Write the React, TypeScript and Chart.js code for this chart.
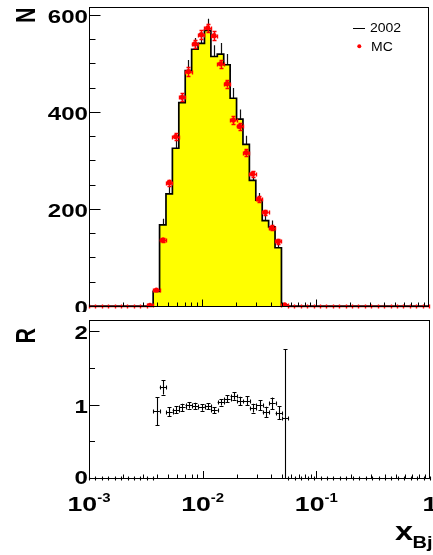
import React, { useEffect, useRef } from "react";
import { Chart, registerables } from "chart.js";

Chart.register(...registerables);

// ---------- binning (log-uniform bins) ----------
const N_BINS = 53;
const X_MIN = 1e-3;
const X_MAX = 1;
const FIRST_BIN = 9; // index of the first bin listed in the arrays below

// ---------- values (bins 9..30) ----------
const DATA_2002 = [0, 30, 167, 231, 325, 419, 485, 529, 541, 568, 514, 519, 497, 428, 385, 333, 259, 218, 176, 163, 120, 2];
const DATA_2002_ERR = [0, 5.5, 13, 15, 18, 20, 22, 23, 23, 24, 23, 23, 22, 21, 20, 18, 16, 15, 13, 13, 11, 1.4];
const MC = [1.5, 33, 136, 254, 349, 430, 483, 540, 559, 573, 557, 499, 458, 383, 370, 316, 272, 220, 193, 161, 133, 2.4];
const MC_ERR = [0.5, 2.5, 5, 6.5, 7.5, 8, 8.5, 9, 9, 9, 9, 8.5, 8, 7.5, 7.5, 7, 6.5, 6, 5.5, 5, 4.5, 0.6];
const RATIO = [0, 0.91, 1.235, 0.9, 0.93, 0.96, 0.99, 0.98, 0.96, 0.98, 0.92, 1.03, 1.08, 1.115, 1.05, 1.05, 0.95, 0.99, 0.9, 1.015, 0.89, 0.82];
const RATIO_ERR = [0, 0.19, 0.1, 0.06, 0.05, 0.05, 0.045, 0.045, 0.045, 0.04, 0.04, 0.045, 0.05, 0.05, 0.055, 0.06, 0.06, 0.07, 0.07, 0.08, 0.09, 0.93];

// ---------- axes / ticks / labels ----------
const TOP_Y_MAX = 616;
const TOP_Y_MAJOR = [0, 200, 400, 600];
const TOP_Y_MINOR_STEP = 50;
const RATIO_Y_MAX = 2.15;
const RATIO_Y_MAJOR = [0, 1, 2];
const RATIO_Y_MINOR_STEP = 0.5;
const X_DECADES = [1e-3, 1e-2, 1e-1, 1];
const X_DECADE_LABELS = [["10", "-3"], ["10", "-2"], ["10", "-1"], ["1", ""]];
const X_MINOR_MULT = [2, 3, 4, 5, 6, 7, 8, 9];
const LEGEND_LABELS = ["2002", "MC"];
const Y_TITLE_TOP = "N";
const Y_TITLE_RATIO = "R";
const X_TITLE = "x";
const X_TITLE_SUB = "Bj";

const FONT = "'Liberation Sans', Arial, Helvetica, sans-serif";
const SX = 1.3; // horizontal stretch of the original rendering

const edge = (i: number) => X_MIN * Math.pow(X_MAX / X_MIN, i / N_BINS);
const at = (arr: number[], k: number) => {
  const j = k - FIRST_BIN;
  return j >= 0 && j < arr.length ? arr[j] : 0;
};

function txt(ctx: CanvasRenderingContext2D, s: string, x: number, y: number, font: string, align: CanvasTextAlign, sx: number, color = "#000") {
  ctx.save();
  ctx.font = font;
  ctx.fillStyle = color;
  ctx.textAlign = align;
  ctx.textBaseline = "alphabetic";
  ctx.translate(x, y);
  ctx.scale(sx, 1);
  ctx.fillText(s, 0, 0);
  ctx.restore();
}

function vtxt(ctx: CanvasRenderingContext2D, s: string, x: number, y: number, font: string, sx: number) {
  ctx.save();
  ctx.font = font;
  ctx.fillStyle = "#000";
  ctx.textAlign = "right";
  ctx.textBaseline = "alphabetic";
  ctx.translate(x, y);
  ctx.rotate(-Math.PI / 2);
  ctx.scale(1, sx);
  ctx.fillText(s, 0, 0);
  ctx.restore();
}

function textW(ctx: CanvasRenderingContext2D, s: string, font: string, sx: number) {
  ctx.save();
  ctx.font = font;
  const w = ctx.measureText(s).width * sx;
  ctx.restore();
  return w;
}

function drawFrameAndTicks(chart: any, yMajor: number[], yMinorStep: number, yMax: number, yMajLen: number, yMinLen: number, xMajLen: number, xMinLen: number) {
  const { ctx, chartArea: a, scales } = chart;
  const x = scales.x;
  const y = scales.y;
  const L = Math.round(a.left) + 0.5;
  const R = Math.round(a.right) - 0.5;
  const T = Math.round(a.top) + 0.5;
  const B = Math.round(a.bottom) + 0.5;
  ctx.save();
  ctx.strokeStyle = "#000";
  ctx.lineWidth = 1;
  ctx.strokeRect(L, T, R - L, B - T);
  ctx.beginPath();
  yMajor.forEach((v) => {
    const py = Math.round(y.getPixelForValue(v)) + 0.5;
    ctx.moveTo(L, py);
    ctx.lineTo(L + yMajLen, py);
  });
  for (let v = yMinorStep; v < yMax; v += yMinorStep) {
    if (yMajor.some((m) => Math.abs(m - v) < 1e-9)) continue;
    const py = Math.round(y.getPixelForValue(v)) + 0.5;
    ctx.moveTo(L, py);
    ctx.lineTo(L + yMinLen, py);
  }
  X_DECADES.forEach((d, i) => {
    const px = Math.min(R, Math.round(x.getPixelForValue(d)) + 0.5);
    ctx.moveTo(px, B);
    ctx.lineTo(px, B - xMajLen);
    if (i < X_DECADES.length - 1) {
      X_MINOR_MULT.forEach((m) => {
        const qx = Math.round(x.getPixelForValue(m * d)) + 0.5;
        ctx.moveTo(qx, B);
        ctx.lineTo(qx, B - xMinLen);
      });
    }
  });
  ctx.stroke();
  ctx.restore();
}

function drawErrorPoints(chart: any, vals: number[], errs: number[], color: string, cap: number, clipArea: boolean, lw: number) {
  const { ctx, chartArea: a, scales } = chart;
  const x = scales.x;
  const y = scales.y;
  ctx.save();
  ctx.strokeStyle = color;
  ctx.lineWidth = lw;
  ctx.beginPath();
  const clampY = (v: number) => (clipArea ? Math.max(a.top, Math.min(a.bottom, v)) : v);
  for (let k = 0; k < N_BINS; k++) {
    const v = at(vals, k);
    const e = at(errs, k);
    const pl = x.getPixelForValue(edge(k));
    const pr = x.getPixelForValue(edge(k + 1));
    const pc = Math.round(x.getPixelForValue(edge(k + 0.5))) + 0.5;
    const py = Math.round(y.getPixelForValue(v)) + 0.5;
    ctx.moveTo(pl, py);
    ctx.lineTo(pr, py);
    ctx.moveTo(Math.round(pl) + 0.5, py - cap);
    ctx.lineTo(Math.round(pl) + 0.5, py + cap);
    ctx.moveTo(Math.round(pr) + 0.5, py - cap);
    ctx.lineTo(Math.round(pr) + 0.5, py + cap);
    if (v > 0 && e > 0) {
      const y1 = clampY(y.getPixelForValue(v - e));
      const y2 = clampY(y.getPixelForValue(v + e));
      ctx.moveTo(pc, y1);
      ctx.lineTo(pc, y2);
      if (y.getPixelForValue(v - e) <= a.bottom || !clipArea) {
        ctx.moveTo(pc - cap, Math.round(y1) + 0.5);
        ctx.lineTo(pc + cap, Math.round(y1) + 0.5);
      }
      ctx.moveTo(pc - cap, Math.round(y2) + 0.5);
      ctx.lineTo(pc + cap, Math.round(y2) + 0.5);
    }
  }
  ctx.stroke();
  ctx.restore();
}

const topPlugin = {
  id: "topDecor",
  beforeDatasetsDraw(chart: any) {
    const { ctx, chartArea: a, scales } = chart;
    const x = scales.x;
    const y = scales.y;
    ctx.save();
    ctx.beginPath();
    ctx.rect(a.left, a.top, a.right - a.left, a.bottom - a.top);
    ctx.clip();
    ctx.strokeStyle = "#111";
    ctx.lineWidth = 1.2;
    ctx.beginPath();
    for (let k = 0; k < N_BINS; k++) {
      const v = at(DATA_2002, k);
      const e = at(DATA_2002_ERR, k);
      if (v <= 0) continue;
      const pc = Math.round(x.getPixelForValue(edge(k + 0.5))) + 0.5;
      ctx.moveTo(pc, y.getPixelForValue(v - e));
      ctx.lineTo(pc, y.getPixelForValue(v + e));
    }
    ctx.stroke();
    ctx.restore();
  },
  afterDatasetsDraw(chart: any) {
    const { ctx } = chart;
    drawErrorPoints(chart, MC, MC_ERR, "#ff0000", 2, false, 1.4);
    drawFrameAndTicks(chart, TOP_Y_MAJOR, TOP_Y_MINOR_STEP, TOP_Y_MAX, 11, 6, 7, 4);
    const y = chart.scales.y;
    const f = `bold 18.5px ${FONT}`;
    TOP_Y_MAJOR.forEach((v) => {
      txt(ctx, String(v), 88, Math.round(y.getPixelForValue(v)) + 7.7, f, "right", SX);
    });
    vtxt(ctx, Y_TITLE_TOP, 35, 7.5, `bold 21.5px ${FONT}`, SX);
    // legend
    ctx.save();
    ctx.strokeStyle = "#000";
    ctx.lineWidth = 1;
    ctx.beginPath();
    ctx.moveTo(353, 28.5);
    ctx.lineTo(365, 28.5);
    ctx.stroke();
    ctx.fillStyle = "#ff0000";
    ctx.beginPath();
    ctx.arc(359.3, 46.3, 2, 0, Math.PI * 2);
    ctx.fill();
    ctx.restore();
    const lf = `12.5px ${FONT}`;
    txt(ctx, LEGEND_LABELS[0], 370, 31.8, lf, "left", 1.12);
    txt(ctx, LEGEND_LABELS[1], 371, 51, lf, "left", 1.12);
  },
};

const ratioPlugin = {
  id: "ratioDecor",
  afterDatasetsDraw(chart: any) {
    const { ctx } = chart;
    drawErrorPoints(chart, RATIO, RATIO_ERR, "#000", 2, true, 1.1);
    drawFrameAndTicks(chart, RATIO_Y_MAJOR, RATIO_Y_MINOR_STEP, RATIO_Y_MAX, 10, 5.5, 7.5, 4);
    const y = chart.scales.y;
    const x = chart.scales.x;
    const f = `bold 18.5px ${FONT}`;
    RATIO_Y_MAJOR.forEach((v) => {
      const off = v === 0 ? 5.5 : 7.5;
      txt(ctx, String(v), 88, Math.round(y.getPixelForValue(v)) + off, f, "right", SX);
    });
    vtxt(ctx, Y_TITLE_RATIO, 35, 16, `bold 21.5px ${FONT}`, SX);
    const mf = `bold 20.5px ${FONT}`;
    const sf = `bold 13px ${FONT}`;
    const base = chart.chartArea.bottom + 33;
    X_DECADES.forEach((d, i) => {
      const [m, s] = X_DECADE_LABELS[i];
      const wm = textW(ctx, m, mf, SX);
      const ws = s ? textW(ctx, s, sf, 1.15) : 0;
      const cx = x.getPixelForValue(d);
      const left = cx - (wm + ws) / 2;
      txt(ctx, m, left, base, mf, "left", SX);
      if (s) txt(ctx, s, left + wm, base - 9.5, sf, "left", 1.15);
    });
    txt(ctx, X_TITLE, 395, chart.chartArea.bottom + 62, `bold 25px ${FONT}`, "left", SX);
    txt(ctx, X_TITLE_SUB, 412.5, chart.chartArea.bottom + 69.5, `bold 16px ${FONT}`, "left", 1.25);
  },
};

export default function App() {
  const topRef = useRef<HTMLCanvasElement>(null);
  const botRef = useRef<HTMLCanvasElement>(null);

  useEffect(() => {
    const histPoints: { x: number; y: number }[] = [];
    for (let k = 0; k < N_BINS; k++) histPoints.push({ x: edge(k), y: at(DATA_2002, k) });
    histPoints.push({ x: edge(N_BINS), y: 0 });

    const mcPoints: { x: number; y: number }[] = [];
    for (let k = 0; k < N_BINS; k++) {
      const m = at(MC, k);
      if (m > 0) mcPoints.push({ x: edge(k + 0.5), y: m });
    }

    const ratioPoints: { x: number; y: number }[] = [];
    for (let k = 0; k < N_BINS; k++) {
      const r = at(RATIO, k);
      if (r > 0) ratioPoints.push({ x: edge(k + 0.5), y: r });
    }

    const common = {
      responsive: false,
      animation: false as const,
      devicePixelRatio: 1,
      events: [] as any[],
      plugins: { legend: { display: false }, tooltip: { enabled: false } },
    };

    const c1 = new Chart(topRef.current!, {
      type: "line",
      data: {
        datasets: [
          {
            label: "MC",
            data: mcPoints,
            showLine: false,
            pointRadius: 2.6,
            pointBackgroundColor: "#ff0000",
            pointBorderWidth: 0,
            pointStyle: "circle",
            order: 0,
          } as any,
          {
            label: "2002",
            data: histPoints,
            stepped: "before",
            borderColor: "#000",
            borderWidth: 1.7,
            backgroundColor: "#ffff00",
            fill: "origin",
            pointRadius: 0,
            order: 1,
          } as any,
        ],
      },
      options: {
        ...common,
        layout: { padding: { left: 89, right: 3, top: 7, bottom: 6 } },
        scales: {
          x: { type: "logarithmic", min: X_MIN, max: X_MAX, display: false },
          y: { type: "linear", min: 0, max: TOP_Y_MAX, display: false },
        },
      } as any,
      plugins: [topPlugin],
    });

    const c2 = new Chart(botRef.current!, {
      type: "line",
      data: {
        datasets: [
          {
            label: "R",
            data: ratioPoints,
            showLine: false,
            pointRadius: 0,
          } as any,
        ],
      },
      options: {
        ...common,
        layout: { padding: { left: 89, right: 3, top: 8, bottom: 77 } },
        scales: {
          x: { type: "logarithmic", min: X_MIN, max: X_MAX, display: false },
          y: { type: "linear", min: 0, max: RATIO_Y_MAX, display: false },
        },
      } as any,
      plugins: [ratioPlugin],
    });

    return () => {
      c1.destroy();
      c2.destroy();
    };
  }, []);

  return (
    <div style={{ position: "absolute", left: 0, top: 0, width: 433, height: 555, background: "#fff" }}>
      <canvas ref={topRef} width={433} height={312} style={{ position: "absolute", left: 0, top: 0, width: 433, height: 312 }} />
      <canvas ref={botRef} width={433} height={243} style={{ position: "absolute", left: 0, top: 312, width: 433, height: 243 }} />
    </div>
  );
}
